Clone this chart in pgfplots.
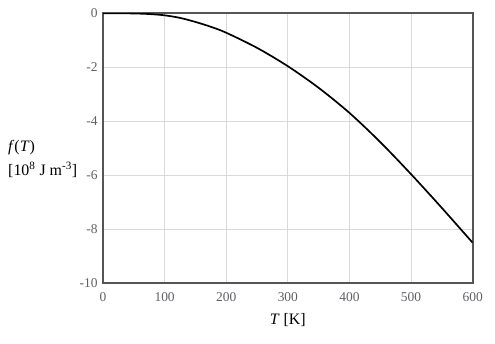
\documentclass[border=0pt]{standalone}
\usepackage{pgfplots}
\pgfplotsset{compat=1.18}
\usepackage{fontspec}
\setmainfont{Liberation Serif}
\definecolor{frame}{HTML}{555555}
\definecolor{tickc}{HTML}{5F5F66}
\definecolor{gridc}{HTML}{D9D9D9}
\begin{document}
\begin{tikzpicture}
\begin{axis}[
  scale only axis,
  width=369.7bp, height=270bp,
  xmin=0, xmax=600, ymin=-10, ymax=0,
  xtick={0,100,...,600},
  ytick={-10,-8,-6,-4,-2,0},
  yticklabels={-10,-8,-6,-4,-2,0},
  xticklabels={0,100,200,300,400,500,600},
  major tick length=0pt,
  grid=major,
  major grid style={gridc, line width=0.8bp},
  axis line style={frame, line width=1.8bp},
  tick label style={font=\fontsize{13.5}{15}\selectfont, text=tickc},
  xticklabel style={yshift=-6bp},
  yticklabel style={xshift=-2bp},
  xlabel={\fontsize{16}{18}\selectfont\textit{T} [K]},
  xlabel style={yshift=-5bp},
]
\addplot[black, line width=1.7bp, smooth, tension=0.5] coordinates {
(0,0) (25,0) (50,-0.006) (75,-0.027) (100,-0.075) (125,-0.17) (150,-0.32)
(175,-0.50) (200,-0.72) (250,-1.28) (300,-1.96) (350,-2.76) (400,-3.69)
(450,-4.77) (500,-5.96) (550,-7.21) (600,-8.5)
};
\end{axis}
\node[anchor=west, align=left, font=\fontsize{16}{24}\selectfont, inner sep=0pt]
  at ([xshift=-95bp, yshift=-11bp]current axis.west)
  {\textit{f}(\textit{T})\\{}[10\textsuperscript{8} J m\textsuperscript{-3}]};
\path ([xshift=-103bp,yshift=-60.7bp]current axis.south west) rectangle ([xshift=22.3bp,yshift=13.3bp]current axis.north east);
\end{tikzpicture}
\end{document}
